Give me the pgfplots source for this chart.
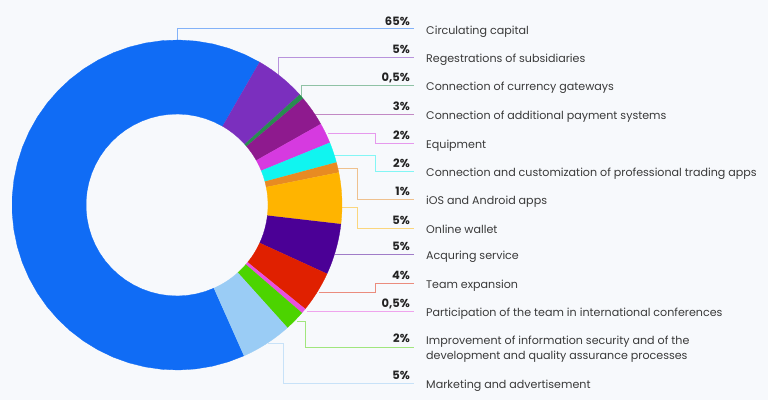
\documentclass[border=0pt]{standalone}
\usepackage{pgfplots}
\pgfplotsset{compat=1.18}
\usepackage{pgfplotstable}
\usepackage{fontspec}
\setmainfont{Poppins}
\definecolor{bgc}{HTML}{F7F9FC}
\definecolor{txt}{HTML}{3A3A3A}
\definecolor{pct}{HTML}{222222}
% slice colours
\definecolor{c1}{RGB}{16,108,245}
\definecolor{c2}{RGB}{123,47,190}
\definecolor{c3}{RGB}{40,140,80}
\definecolor{c4}{RGB}{142,26,142}
\definecolor{c5}{RGB}{214,58,224}
\definecolor{c6}{RGB}{16,245,240}
\definecolor{c7}{RGB}{232,139,34}
\definecolor{c8}{RGB}{255,180,0}
\definecolor{c9}{RGB}{75,0,150}
\definecolor{c10}{RGB}{224,32,0}
\definecolor{c11}{RGB}{232,80,224}
\definecolor{c12}{RGB}{76,212,0}
\definecolor{c13}{RGB}{154,204,245}
\pgfplotstableread{
v c
65 c1
5 c2
0.5 c3
3 c4
2 c5
2 c6
1 c7
5 c8
5 c9
4 c10
0.5 c11
2 c12
5 c13
}\slices
\begin{document}
\begin{tikzpicture}
\begin{axis}[scale only axis, width=768pt, height=400pt,
  xmin=0, xmax=768, ymin=0, ymax=400, y dir=reverse,
  hide axis, clip=false]
\fill[bgc] (rel axis cs:0,0) rectangle (rel axis cs:1,1);
\pgfmathsetmacro\cur{294}
\pgfplotsforeachungrouped \i in {0,...,12}{%
  \pgfplotstablegetelem{\i}{v}\of\slices \let\v\pgfplotsretval
  \pgfplotstablegetelem{\i}{c}\of\slices \let\c\pgfplotsretval
  \pgfmathsetmacro\A{\cur}%
  \pgfmathsetmacro\B{\cur-3.6*\v}%
  \edef\temp{\noexpand\addplot[fill=\c, draw=\c, line width=0.3pt, samples at={0,1,...,40,100,101,...,140}]
    ({177+(x<50?165:91)*cos(x<50?\A+(\B-(\A))*x/40:\B+(\A-(\B))*(x-100)/40)},
     {205-(x<50?165:91)*sin(x<50?\A+(\B-(\A))*x/40:\B+(\A-(\B))*(x-100)/40)});}%
  \temp
  \global\let\cur\B
}
% leader lines
\pgfplotsset{ll/.style={draw=#1, draw opacity=0.5, line width=0.8pt}}
\addplot[ll=c1] coordinates {(177,40) (177,28.5) (414,28.5)};
\addplot[ll=c2] coordinates {(278,77) (278,57) (414,57)};
\addplot[ll=c3] coordinates {(301,97) (301,85) (414,85)};
\addplot[ll=c4] coordinates {(313,114) (414,114)};
\addplot[ll=c5] coordinates {(328,133) (375,133) (375,143) (414,143)};
\addplot[ll=c6] coordinates {(333,155) (375,155) (375,171) (414,171)};
\addplot[ll=c7] coordinates {(338,168) (357,168) (357,199) (414,199)};
\addplot[ll=c8] coordinates {(342,207) (357,207) (357,228) (414,228)};
\addplot[ll=c9] coordinates {(335,254) (414,254)};
\addplot[ll=c10] coordinates {(319,292) (375,292) (375,283) (414,283)};
\addplot[ll=c11] coordinates {(307,311) (414,311)};
\addplot[ll=c12] coordinates {(297,321) (305,321) (305,347) (414,347)};
\addplot[ll=c13] coordinates {(268,343) (283,343) (283,383) (414,383)};
% labels
\tikzset{p/.style={anchor=base east, inner sep=0pt, font=\fontsize{11.5}{14}\selectfont\bfseries, text=pct},
         t/.style={anchor=base west, inner sep=0pt, font=\fontsize{11.1}{14}\selectfont, text=txt}}
\node[p] at (axis cs:410,25) {65\%};
\node[t] at (axis cs:426,34) {Circulating capital};
\node[p] at (axis cs:410,53.5) {5\%};
\node[t] at (axis cs:426,62.5) {Regestrations of subsidiaries};
\node[p] at (axis cs:410,81.5) {0,5\%};
\node[t] at (axis cs:426,90.5) {Connection of currency gateways};
\node[p] at (axis cs:410,110.5) {3\%};
\node[t] at (axis cs:426,119.5) {Connection of additional payment systems};
\node[p] at (axis cs:410,139.5) {2\%};
\node[t] at (axis cs:426,148.5) {Equipment};
\node[p] at (axis cs:410,167.5) {2\%};
\node[t] at (axis cs:426,176.5) {Connection and customization of professional trading apps};
\node[p] at (axis cs:410,195.5) {1\%};
\node[t] at (axis cs:426,204.5) {iOS and Android apps};
\node[p] at (axis cs:410,224.5) {5\%};
\node[t] at (axis cs:426,233.5) {Online wallet};
\node[p] at (axis cs:410,250.5) {5\%};
\node[t] at (axis cs:426,259.5) {Acquring service};
\node[p] at (axis cs:410,279.5) {4\%};
\node[t] at (axis cs:426,288.5) {Team expansion};
\node[p] at (axis cs:410,307.5) {0,5\%};
\node[t] at (axis cs:426,316.5) {Participation of the team in international conferences};
\node[p] at (axis cs:410,342.5) {2\%};
\node[t] at (axis cs:426,344.5) {Improvement of information security and of the};
\node[t] at (axis cs:426,359.5) {development and quality assurance processes};
\node[p] at (axis cs:410,379.5) {5\%};
\node[t] at (axis cs:426,388.5) {Marketing and advertisement};
\end{axis}
\end{tikzpicture}
\end{document}
